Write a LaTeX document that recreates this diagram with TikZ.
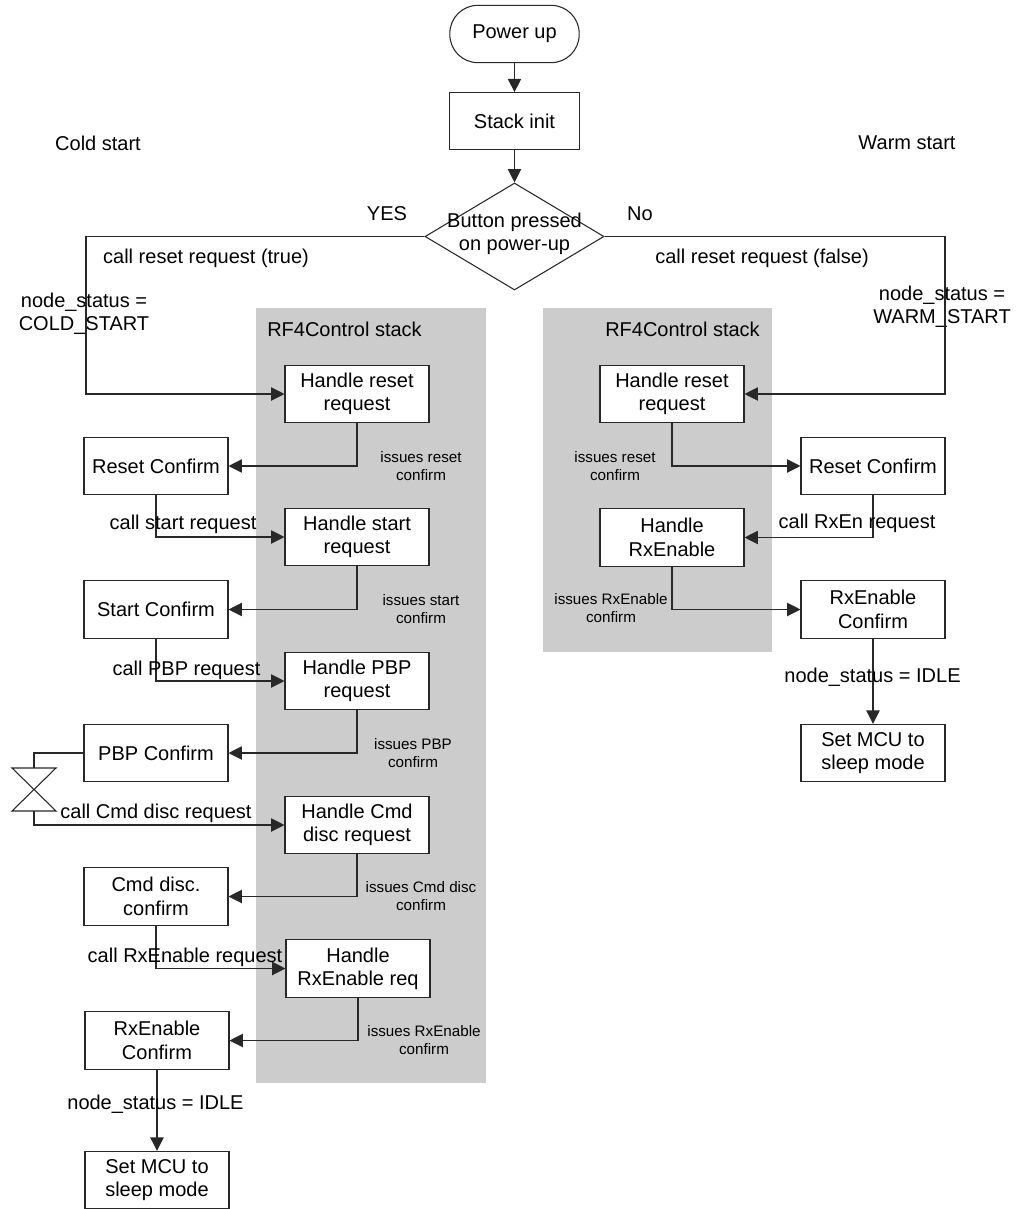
\documentclass[tikz,border=0pt]{standalone}
\usepackage{fontspec}
\setmainfont{Liberation Sans}
\usetikzlibrary{shapes.geometric,arrows.meta,calc}
\definecolor{stackgray}{RGB}{204,204,204}
\definecolor{linec}{RGB}{40,40,40}
\tikzset{
  box/.style={draw=linec, line width=0.8pt, fill=white, minimum width=108pt, minimum height=43pt, inner sep=0pt, align=center, font=\fontsize{15}{17.5}\selectfont},
  lbl/.style={inner sep=0pt, align=center, font=\fontsize{15}{17.5}\selectfont},
  small/.style={inner sep=0pt, align=center, font=\fontsize{11.4}{13.5}\selectfont},
  conn/.style={draw=linec, line width=0.8pt},
  arr/.style={conn, -{Triangle[length=10pt,width=10pt]}},
  stackbg/.style={fill=stackgray, draw=none}
}
\begin{document}
\begin{tikzpicture}[x=0.75pt,y=-0.75pt]
\useasboundingbox (0,0) rectangle (1027,1209);
% stack backgrounds
\fill[stackbg] (256,308) rectangle (486,1083);
\fill[stackbg] (543,308) rectangle (772,652);
% top
\node[box, rounded corners=21pt, minimum width=97pt] (pu) at (514.5,34) {Power up};
\node[box, minimum width=97.5pt, minimum height=42.5pt] (si) at (514.5,121) {Stack init};
\node[diamond, draw=linec, line width=0.8pt, minimum width=134.25pt, minimum height=80.25pt, inner sep=0pt] (dia) at (514.5,236.5) {};
\node[lbl] (diat) at (514.5,234) {Button pressed\\on power-up};
% labels
\node[lbl] (cold) at (98,143) {Cold start};
\node[lbl] (warm) at (907,143) {Warm start};
\node[lbl] (yes) at (387,214) {YES};
\node[lbl] (no) at (640,214) {No};
\node[lbl] (crt) at (206,258) {call reset request (true)};
\node[lbl] (crf) at (762,258) {call reset request (false)};
\node[lbl] (nscold) at (84,314) {node\_status =\\COLD\_START};
\node[lbl] (nswarm) at (942,307) {node\_status =\\WARM\_START};
\node[lbl] (stl) at (344.5,329) {RF4Control stack};
\node[lbl] (str) at (682.5,329) {RF4Control stack};
% left stack handlers
\node[box] (hr) at (357,394) {Handle reset\\request};
\node[box] (hs) at (357,537) {Handle start\\request};
\node[box] (hp) at (357,681) {Handle PBP\\request};
\node[box] (hc) at (357,825) {Handle Cmd\\disc request};
\node[box] (hx) at (358,968.5) {Handle\\RxEnable req};
% left confirms
\node[box] (lrc) at (156,466) {Reset Confirm};
\node[box] (lsc) at (156,609.5) {Start Confirm};
\node[box] (lpc) at (156,753) {PBP Confirm};
\node[box] (lcc) at (156,896.5) {Cmd disc.\\confirm};
\node[box] (lxc) at (157,1040.5) {RxEnable\\Confirm};
\node[box] (lmcu) at (157,1180) {Set MCU to\\sleep mode};
% right
\node[box] (rhr) at (672,394) {Handle reset\\request};
\node[box] (rrc) at (873,466) {Reset Confirm};
\node[box] (rhx) at (672,537.5) {Handle\\RxEnable};
\node[box] (rxc) at (873,609.5) {RxEnable\\Confirm};
\node[box] (rmcu) at (873,753) {Set MCU to\\sleep mode};
% coordinates
\coordinate (lc) at (86,300);
\coordinate (rc) at (945,300);
\coordinate (bt) at (34,789.5);
\coordinate (bttop) at (34,768);
\coordinate (btbot) at (34,811);
% connectors
\draw[arr] (pu) -- (si);
\draw[arr] (si) -- (dia);
\draw[arr] (dia.west) -| (lc) |- (hr.west);
\draw[arr] (dia.east) -| (rc) |- (rhr.east);
\draw[arr] (hr.south) |- (lrc.east);
\draw[arr] (lrc.south) |- (hs.west);
\draw[arr] (hs.south) |- (lsc.east);
\draw[arr] (lsc.south) |- (hp.west);
\draw[arr] (hp.south) |- (lpc.east);
\draw[conn] (lpc.west) -| (bttop);
\draw[conn] ($(bt)+(-22,-21.5)$) -- ($(bt)+(22,-21.5)$) -- ($(bt)+(-22,21.5)$) -- ($(bt)+(22,21.5)$) -- cycle;
\draw[arr] (btbot) |- (hc.west);
\draw[arr] (hc.south) |- (lcc.east);
\draw[arr] (lcc.south) |- (hx.west);
\draw[arr] (hx.south) |- (lxc.east);
\draw[arr] (lxc) -- (lmcu);
\draw[arr] (rhr.south) |- (rrc.west);
\draw[arr] (rrc.south) |- (rhx.east);
\draw[arr] (rhx.south) |- (rxc.west);
\draw[arr] (rxc) -- (rmcu);
% connector labels
\node[lbl] (cst) at (183,524) {call start request};
\node[lbl] (cpbp) at (186.5,670) {call PBP request};
\node[lbl] (ccmd) at (156,813) {call Cmd disc request};
\node[lbl] (crx) at (185,957) {call RxEnable request};
\node[lbl] (nsil) at (155.5,1104) {node\_status = IDLE};
\node[lbl] (crxen) at (857,523) {call RxEn request};
\node[lbl] (nsir) at (872.5,677) {node\_status = IDLE};
\node[small] (irl) at (421,466) {issues reset\\confirm};
\node[small] (isl) at (421,609) {issues start\\confirm};
\node[small] (ipl) at (413,753) {issues PBP\\confirm};
\node[small] (icl) at (421,896.5) {issues Cmd disc\\confirm};
\node[small] (ixl) at (424,1040) {issues RxEnable\\confirm};
\node[small] (irr) at (615,466) {issues reset\\confirm};
\node[small] (ixr) at (611,608.5) {issues RxEnable\\confirm};
\end{tikzpicture}
\end{document}
